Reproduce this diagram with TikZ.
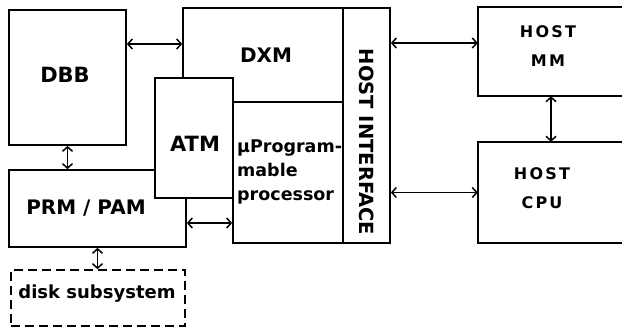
\documentclass[tikz,border=0pt]{standalone}
\usepackage{fontspec}
\setmainfont{DejaVu Sans}
\newfontfamily\wide[LetterSpace=14]{DejaVu Sans}
\usetikzlibrary{arrows.meta}
\begin{document}
\begin{tikzpicture}[x=1pt,y=-1pt,
  blk/.style={draw,line width=1.7pt,rectangle,inner sep=0pt},
  wblk/.style={blk,fill=white},
  ghost/.style={rectangle,inner sep=0pt},
  lab/.style={inner sep=0pt},
  arr/.style={line width=1.5pt,{Straight Barb[length=4.5pt,width=10pt]}-{Straight Barb[length=4.5pt,width=10pt]}},
  dashbox/.style={blk,dash pattern=on 9pt off 5pt}]
\useasboundingbox (0,0) rectangle (622,332);
% boxes
\node[blk,minimum width=117pt,minimum height=135pt] (dbb) at (67.5,77.5) {};
\node[blk,minimum width=177pt,minimum height=77pt] (prm) at (97.5,208.5) {};
\node[dashbox,minimum width=174pt,minimum height=56pt] (disk) at (98,298) {};
\node[blk,minimum width=160pt,minimum height=94pt] (dxm) at (263,55) {};
\node[blk,minimum width=110pt,minimum height=141pt] (mp) at (288,172.5) {};
\node[blk,minimum width=47pt,minimum height=235pt] (hi) at (366.5,125.5) {};
\node[wblk,minimum width=78pt,minimum height=120pt] (atm) at (194,138) {};
\node[ghost,minimum width=146pt,minimum height=89pt] (mm) at (551,51.5) {};
\node[ghost,minimum width=146pt,minimum height=101pt] (cpu) at (551,192.5) {};
\draw[line width=1.7pt] (mm.north east) -- (mm.north west) -- (mm.south west) -- (mm.south east);
\draw[line width=1.7pt] (cpu.north east) -- (cpu.north west) -- (cpu.south west) -- (cpu.south east);
% labels
\node[lab,font=\bfseries\fontsize{21}{24}\selectfont] (tdbb) at (65,75) {DBB};
\node[lab,font=\bfseries\fontsize{20}{24}\selectfont] (tdxm) at (266,55) {DXM};
\node[lab,font=\bfseries\fontsize{21}{24}\selectfont] (tatm) at (195,144) {ATM};
\node[lab,font=\bfseries\fontsize{17.5}{24}\selectfont,align=left,anchor=west] (tmp) at (237,172) {μProgram-\\mable\\processor};
\node[lab,font=\bfseries\fontsize{20}{24}\selectfont] (tprm) at (86,208) {PRM / PAM};
\node[lab,font=\bfseries\fontsize{18}{24}\selectfont] (tdisk) at (97,294) {disk subsystem};
\node[lab,font=\bfseries\fontsize{19.5}{24}\selectfont,rotate=-90] (thi) at (367,142) {HOST INTERFACE};
\node[lab,font=\wide\bfseries\fontsize{16}{29}\selectfont,align=center] (tmm) at (548,46) {HOST\\MM};
\node[lab,font=\wide\bfseries\fontsize{16}{29}\selectfont,align=center] (tcpu) at (542,188) {HOST\\CPU};
% connectors
\draw[arr] ([yshift=33.5pt]dbb.east) -- ([yshift=33.5pt]dbb.east -| dxm.west);
\draw[arr] (dbb.south) -- (dbb.south |- prm.north);
\draw[arr] (prm.south) -- (prm.south |- disk.north);
\draw[arr] ([yshift=-14.5pt]prm.east) -- ([yshift=-14.5pt]prm.east -| mp.west);
\draw[arr] ([yshift=8.5pt]mm.west -| hi.east) -- ([yshift=8.5pt]mm.west);
\draw[arr] (cpu.west -| hi.east) -- (cpu.west);
\draw[arr] (mm.south) -- (mm.south |- cpu.north);
\end{tikzpicture}
\end{document}
